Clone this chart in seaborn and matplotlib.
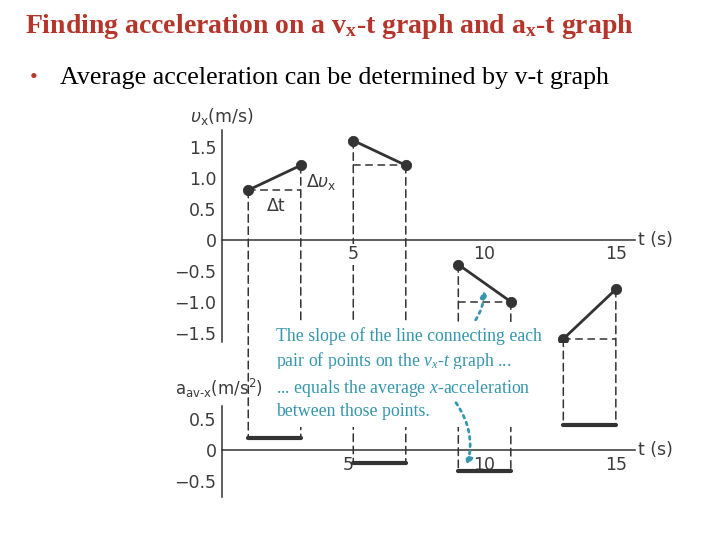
import seaborn as sns
import matplotlib.pyplot as plt
import pandas as pd
from matplotlib.patches import ConnectionPatch

# pairs of points
t_start = [1, 5, 9, 13]
t_end = [3, 7, 11, 15]
v_start = [0.8, 1.6, -0.4, -1.6]
v_end = [1.2, 1.2, -1.0, -0.8]
# average acceleration over each pair (as drawn)
a_avg = [0.2, -0.21, -0.34, 0.4]

v_ticks = [-1.5, -1.0, -0.5, 0, 0.5, 1.0, 1.5]
v_ticklabels = ['\u22121.5', '\u22121.0', '\u22120.5', '0', '0.5', '1.0', '1.5']
a_ticks = [-0.5, 0, 0.5]
a_ticklabels = ['\u22120.5', '0', '0.5']
t_ticks = [5, 10, 15]

title = 'Finding acceleration on a v$_{\\mathrm{x}}$-t graph and a$_{\\mathrm{x}}$-t graph'
bullet = 'Average acceleration can be determined by v-t graph'
note1 = 'The slope of the line connecting each\npair of points on the $\\mathit{v_x}$-$\\mathit{t}$ graph ...'
note2 = '... equals the average $\\mathit{x}$-acceleration\nbetween those points.'

RED = '#b5352b'
TEAL = '#3596ad'
INK = '#333333'
LBL = '#3c3c3c'

plt.rcParams['mathtext.fontset'] = 'custom'
plt.rcParams['mathtext.rm'] = 'Liberation Serif:bold'
plt.rcParams['mathtext.it'] = 'Liberation Serif:italic'

sns.set_style('white')
plt.rcParams['font.family'] = ['DejaVu Sans']

seg = []
for i in range(len(t_start)):
    seg.append({'pair': i, 't': t_start[i], 'v': v_start[i], 'a': a_avg[i]})
    seg.append({'pair': i, 't': t_end[i], 'v': v_end[i], 'a': a_avg[i]})
df = pd.DataFrame(seg)

fig = plt.figure(figsize=(7.2, 5.4), dpi=100)
W, H = 720, 540


def rect(l, r, top, bot):
    return [l / W, 1 - bot / H, (r - l) / W, (bot - top) / H]


ax_v = fig.add_axes(rect(222, 635, 130, 342))
ax_a = fig.add_axes(rect(222, 635, 406, 497))

# v-t graph: segments and points
sns.lineplot(data=df, x='t', y='v', units='pair', estimator=None, color=INK,
             lw=2, ax=ax_v, legend=False)
sns.scatterplot(data=df, x='t', y='v', color=INK, s=55, ax=ax_v, zorder=5,
                edgecolor=INK, legend=False)
# horizontal dashed legs
for i in range(len(t_start)):
    ax_v.hlines(min(v_start[i], v_end[i]), t_start[i], t_end[i], colors=INK,
                linestyles=(0, (5, 3)), lw=1.1)

# a-t graph: constant average acceleration bars
sns.lineplot(data=df, x='t', y='a', units='pair', estimator=None, color=INK,
             lw=3, ax=ax_a, legend=False)

for ax, lo, hi, ticks, labels in [(ax_v, -1.65, 1.77, v_ticks, v_ticklabels),
                                  (ax_a, -0.76, 0.71, a_ticks, a_ticklabels)]:
    ax.set_facecolor('none')
    ax.set_zorder(4)
    ax.set_xlim(0, 15.73)
    ax.set_ylim(lo, hi)
    ax.set_xlabel('')
    ax.set_ylabel('')
    for s in ['top', 'right']:
        ax.spines[s].set_visible(False)
    ax.spines['bottom'].set_position(('data', 0))
    for s in ['bottom', 'left']:
        ax.spines[s].set_color(INK)
        ax.spines[s].set_linewidth(1.1)
    ax.set_xticks(t_ticks)
    ax.set_xticklabels([str(t) for t in t_ticks])
    ax.set_yticks(ticks)
    ax.set_yticklabels(labels)
    ax.tick_params(direction='in', length=7, width=1.1, color=INK,
                   labelsize=12.5, labelcolor=LBL, pad=4)

for lab in ax_v.get_xticklabels():
    lab.set_bbox(dict(fc='white', ec='none', pad=1))
# the "5" on the lower graph sits left of its tick, clear of the bar
ax_a.get_xticklabels()[0].set_horizontalalignment('right')
ax_a.get_xticklabels()[0].set_x(4.8)

# vertical dashed lines joining the two graphs
for i in range(len(t_start)):
    for t, v in [(t_start[i], v_start[i]), (t_end[i], v_end[i])]:
        cp = ConnectionPatch(xyA=(t, v), coordsA=ax_v.transData,
                             xyB=(t, a_avg[i]), coordsB=ax_a.transData,
                             color=INK, lw=1.1, linestyle=(0, (5, 3)), zorder=-1)
        fig.add_artist(cp)

# axis labels
ax_v.text(-1.2, 1.98, '$\\upsilon_{\\mathrm{x}}$(m/s)', fontsize=12.5, color=LBL,
          math_fontfamily='dejavusans', ha='left', va='center', clip_on=False)
ax_v.text(15.85, 0, 't (s)', fontsize=12.5, color=LBL, ha='left', va='center',
          clip_on=False)
ax_a.text(-1.8, 1.0, 'a$_{\\mathrm{av\\text{-}x}}$(m/s$^2$)', fontsize=12, color=LBL,
          math_fontfamily='dejavusans', ha='left', va='center', clip_on=False)
ax_a.text(15.85, 0, 't (s)', fontsize=12.5, color=LBL, ha='left', va='center',
          clip_on=False)
ax_v.text(2.05, 0.55, '\u0394t', fontsize=12.5, color=LBL, ha='center', va='center')
ax_v.text(3.2, 0.93, '\u0394$\\upsilon_{\\mathrm{x}}$', fontsize=12.5, color=LBL,
          math_fontfamily='dejavusans', ha='left', va='center')

# teal notes
fig.text(276 / W, 1 - 327 / H, note1, fontsize=12.8, color=TEAL, family='Liberation Serif',
         ha='left', va='top', linespacing=1.3, math_fontfamily='custom',
         bbox=dict(fc='white', ec='none', pad=5), zorder=3)
fig.text(276 / W, 1 - 378 / H, note2, fontsize=12.8, color=TEAL, family='Liberation Serif',
         ha='left', va='top', linespacing=1.3, math_fontfamily='custom',
         bbox=dict(fc='white', ec='none', pad=5), zorder=3)

ax_v.annotate('', xy=(9.94, -0.76), xytext=(9.6, -1.33),
              arrowprops=dict(arrowstyle='-|>', color=TEAL, lw=2, linestyle=':',
                              connectionstyle='arc3,rad=0.2', mutation_scale=10),
              annotation_clip=False, zorder=6)
ax_a.annotate('', xy=(9.3, -0.3), xytext=(8.85, 0.8),
              arrowprops=dict(arrowstyle='-|>', color=TEAL, lw=2, linestyle=':',
                              connectionstyle='arc3,rad=-0.25', mutation_scale=10),
              annotation_clip=False, zorder=6)

# slide header
fig.text(25 / W, 1 - 33 / H, title, fontsize=20, color=RED, family='Liberation Serif',
         weight='bold', math_fontfamily='custom', ha='left', va='baseline')
fig.text(30 / W, 1 - 83 / H, '\u2022', fontsize=16, color=RED, family='Liberation Serif',
         ha='left', va='baseline')
fig.text(60 / W, 1 - 84 / H, bullet, fontsize=18.7, color='black', family='Liberation Serif',
         ha='left', va='baseline')

fig.savefig('out.png', dpi=100)
